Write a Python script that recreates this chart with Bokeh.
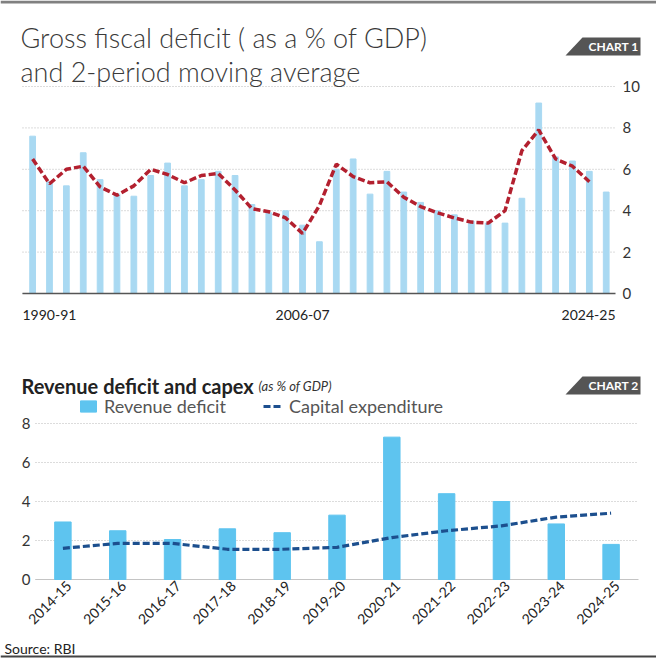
import math
from bokeh.plotting import figure
from bokeh.models import Range1d, Label, PolyAnnotation, Legend, LegendItem
from bokeh.core.properties import value
from bokeh.layouts import column
from bokeh.embed import file_html
from bokeh.resources import INLINE

FONT = "Lato"
TITLE_FONT = "Lato Light, Lato"

# ---------------- Chart 1 data ----------------
years1 = ["1990-91", "1991-92", "1992-93", "1993-94", "1994-95", "1995-96", "1996-97",
          "1997-98", "1998-99", "1999-00", "2000-01", "2001-02", "2002-03", "2003-04",
          "2004-05", "2005-06", "2006-07", "2007-08", "2008-09", "2009-10", "2010-11",
          "2011-12", "2012-13", "2013-14", "2014-15", "2015-16", "2016-17", "2017-18",
          "2018-19", "2019-20", "2020-21", "2021-22", "2022-23", "2023-24", "2024-25"]
gfd = [7.6, 5.4, 5.2, 6.8, 5.5, 4.8, 4.7, 5.7, 6.3, 5.2, 5.5, 5.9, 5.7, 4.3, 3.9, 4.0,
       3.3, 2.5, 6.0, 6.5, 4.8, 5.9, 4.9, 4.4, 4.0, 3.8, 3.5, 3.4, 3.4, 4.6, 9.2, 6.6,
       6.4, 5.9, 4.9]
moving_avg = [6.5, 5.3, 6.0, 6.15, 5.15, 4.75, 5.2, 6.0, 5.75, 5.35, 5.7, 5.8, 5.0, 4.1,
              3.95, 3.65, 2.9, 4.25, 6.25, 5.65, 5.35, 5.4, 4.65, 4.2, 3.9, 3.65, 3.45,
              3.4, 4.0, 6.9, 7.9, 6.5, 6.15, 5.4]
tick_labels1 = ["1990-91", "2006-07", "2024-25"]
yticks1 = [0, 2, 4, 6, 8, 10]

# ---------------- Chart 2 data ----------------
years2 = ["2014-15", "2015-16", "2016-17", "2017-18", "2018-19", "2019-20", "2020-21",
          "2021-22", "2022-23", "2023-24", "2024-25"]
revenue_deficit = [2.95, 2.5, 2.05, 2.6, 2.4, 3.3, 7.3, 4.4, 4.0, 2.85, 1.8]
capital_exp = [1.6, 1.85, 1.85, 1.55, 1.55, 1.65, 2.15, 2.5, 2.75, 3.2, 3.4]
yticks2 = [0, 2, 4, 6, 8]

BAR1 = "#a9d9f2"
RED = "#b3202f"
BAR2 = "#5ec4ef"
NAVY = "#1c4f8e"
TXT = "#333333"
GRID = "#b8b8b8"

W = 656
H1 = 350
H2 = 310

# ---------- figure 1 geometry (pixels inside the figure) ----------
F1_L, F1_R, F1_T, F1_B = 22, 615, 86, 293
n1 = len(years1)
XA1, XB1 = -0.6, n1 - 1 + 0.55
YA1, YB1 = 0, 10
ppx1 = (F1_R - F1_L) / (XB1 - XA1)
ppy1 = (F1_B - F1_T) / (YB1 - YA1)


def dx1(px):
    return XA1 + (px - F1_L) / ppx1


def dy1(py):
    return YA1 + (F1_B - py) / ppy1


p1 = figure(width=W, height=H1,
            x_range=Range1d(dx1(0), dx1(W)), y_range=Range1d(dy1(H1), dy1(0)),
            x_axis_location=None, y_axis_location=None,
            output_backend="svg", toolbar_location=None,
            min_border=0, min_border_left=0, min_border_right=0,
            min_border_top=0, min_border_bottom=0)
p1.outline_line_color = None
p1.grid.visible = False
p1.background_fill_color = "white"
p1.border_fill_color = "white"

idx1 = list(range(n1))
# dotted horizontal grid lines
p1.segment(x0=[XA1] * len(yticks1), x1=[XB1] * len(yticks1), y0=yticks1, y1=yticks1,
           line_color=GRID, line_dash="1 2", line_width=1)
p1.vbar(x=idx1, top=gfd, width=0.34, color=BAR1)
p1.line(x=idx1[:len(moving_avg)], y=moving_avg, line_color=RED, line_width=3.5,
        line_dash="7 3")
# baseline
p1.segment(x0=[XA1], x1=[XB1], y0=[0], y1=[0], line_color="#555555", line_width=1.5)
# right-hand value labels
p1.text(x=[XB1] * len(yticks1), y=yticks1, text=[str(t) for t in yticks1],
        x_offset=7, text_align="left", text_baseline="middle",
        text_font=value(FONT), text_font_size="15px", text_color=TXT)
# x labels
tick_pos1 = [XA1, years1.index("2006-07"), XB1]
aligns1 = ["left", "center", "right"]
for t, xp, al in zip(tick_labels1, tick_pos1, aligns1):
    p1.add_layout(Label(x=xp, y=dy1(314), text=t, text_align=al,
                        text_baseline="alphabetic", text_font=FONT,
                        text_font_size="14px", text_color="#222222"))

# titles
p1.add_layout(Label(x=dx1(20), y=dy1(37), text="Gross fiscal deficit ( as a % of GDP)",
                    text_font=TITLE_FONT, text_font_size="27px", text_color="#3a3a3a",
                    text_baseline="alphabetic"))
p1.add_layout(Label(x=dx1(20), y=dy1(71), text="and 2-period moving average",
                    text_font=TITLE_FONT, text_font_size="27px", text_color="#3a3a3a",
                    text_baseline="alphabetic"))
# top rule
p1.add_layout(PolyAnnotation(xs=[dx1(0), dx1(W), dx1(W), dx1(0)],
                             ys=[dy1(0), dy1(0), dy1(3), dy1(3)],
                             fill_color="#808080", fill_alpha=1, line_color=None))
# CHART 1 tag
p1.add_layout(PolyAnnotation(xs=[dx1(565), dx1(582), dx1(640), dx1(640)],
                             ys=[dy1(55), dy1(37), dy1(37), dy1(55)],
                             fill_color="#555555", fill_alpha=1, line_color=None))
p1.add_layout(Label(x=dx1(613), y=dy1(46), text="CHART 1", text_align="center",
                    text_baseline="middle", text_font=FONT, text_font_style="bold",
                    text_font_size="12px", text_color="white"))

# ---------- figure 2 geometry ----------
F2_L, F2_R, F2_T, F2_B = 35, 638, 73, 229
n2 = len(years2)
XA2, XB2 = -0.5, n2 - 0.5
YA2, YB2 = 0, 8
ppx2 = (F2_R - F2_L) / (XB2 - XA2)
ppy2 = (F2_B - F2_T) / (YB2 - YA2)


def dx2(px):
    return XA2 + (px - F2_L) / ppx2


def dy2(py):
    return YA2 + (F2_B - py) / ppy2


p2 = figure(width=W, height=H2,
            x_range=Range1d(dx2(0), dx2(W)), y_range=Range1d(dy2(H2), dy2(0)),
            x_axis_location=None, y_axis_location=None,
            output_backend="svg", toolbar_location=None,
            min_border=0, min_border_left=0, min_border_right=0,
            min_border_top=0, min_border_bottom=0)
p2.outline_line_color = None
p2.grid.visible = False
p2.background_fill_color = "white"
p2.border_fill_color = "white"

idx2 = list(range(n2))
p2.segment(x0=[XA2] * len(yticks2), x1=[XB2] * len(yticks2), y0=yticks2, y1=yticks2,
           line_color=GRID, line_dash="1 2", line_width=1)
p2.segment(x0=[XA2], x1=[XB2], y0=[0], y1=[0], line_color="#c4c4c4", line_width=1)
bars2 = p2.vbar(x=idx2, top=revenue_deficit, width=0.3, color=BAR2)
line2 = p2.line(x=idx2, y=capital_exp, line_color=NAVY, line_width=3.2, line_dash="7 3")
# y labels
p2.text(x=[XA2] * len(yticks2), y=yticks2, text=[str(t) for t in yticks2],
        x_offset=-5, text_align="right", text_baseline="middle",
        text_font=value(FONT), text_font_size="15px", text_color=TXT)
# rotated category labels
p2.text(x=[i + 6 / ppx2 for i in idx2], y=[dy2(F2_B + 4)] * n2, text=years2,
        angle=math.pi / 4, text_align="right", text_baseline="middle",
        text_font=value(FONT), text_font_size="14px", text_color="#222222")

legend = Legend(items=[LegendItem(label="Revenue deficit", renderers=[bars2]),
                       LegendItem(label="Capital expenditure", renderers=[line2])],
                location=(78, H2 - 67), orientation="horizontal", padding=0, margin=0,
                spacing=37, glyph_width=20, glyph_height=14, label_standoff=6,
                label_height=18, border_line_alpha=0, background_fill_alpha=0,
                label_text_font=FONT, label_text_font_size="18px",
                label_text_color="#555555")
p2.add_layout(legend)

p2.add_layout(Label(x=dx2(21), y=dy2(35), text="Revenue deficit and capex",
                    text_font=FONT, text_font_style="bold", text_font_size="20px",
                    text_color="#222222", text_baseline="alphabetic"))
p2.add_layout(Label(x=dx2(258), y=dy2(35), text="(as % of GDP)",
                    text_font=FONT, text_font_style="italic", text_font_size="13px",
                    text_color="#333333", text_baseline="alphabetic"))
# CHART 2 tag
p2.add_layout(PolyAnnotation(xs=[dx2(565), dx2(582), dx2(640), dx2(640)],
                             ys=[dy2(44), dy2(26), dy2(26), dy2(44)],
                             fill_color="#555555", fill_alpha=1, line_color=None))
p2.add_layout(Label(x=dx2(613), y=dy2(35), text="CHART 2", text_align="center",
                    text_baseline="middle", text_font=FONT, text_font_style="bold",
                    text_font_size="12px", text_color="white"))
# source + bottom rule
p2.add_layout(Label(x=dx2(4), y=dy2(298), text="Source: RBI", text_font=FONT,
                    text_font_size="14px", text_color="#222222",
                    text_baseline="alphabetic"))
p2.add_layout(PolyAnnotation(xs=[dx2(0), dx2(W), dx2(W), dx2(0)],
                             ys=[dy2(305), dy2(305), dy2(307), dy2(307)],
                             fill_color="#444444", fill_alpha=1, line_color=None))

layout = column(p1, p2, spacing=0)
open("out.html", "w").write(file_html(layout, INLINE))
